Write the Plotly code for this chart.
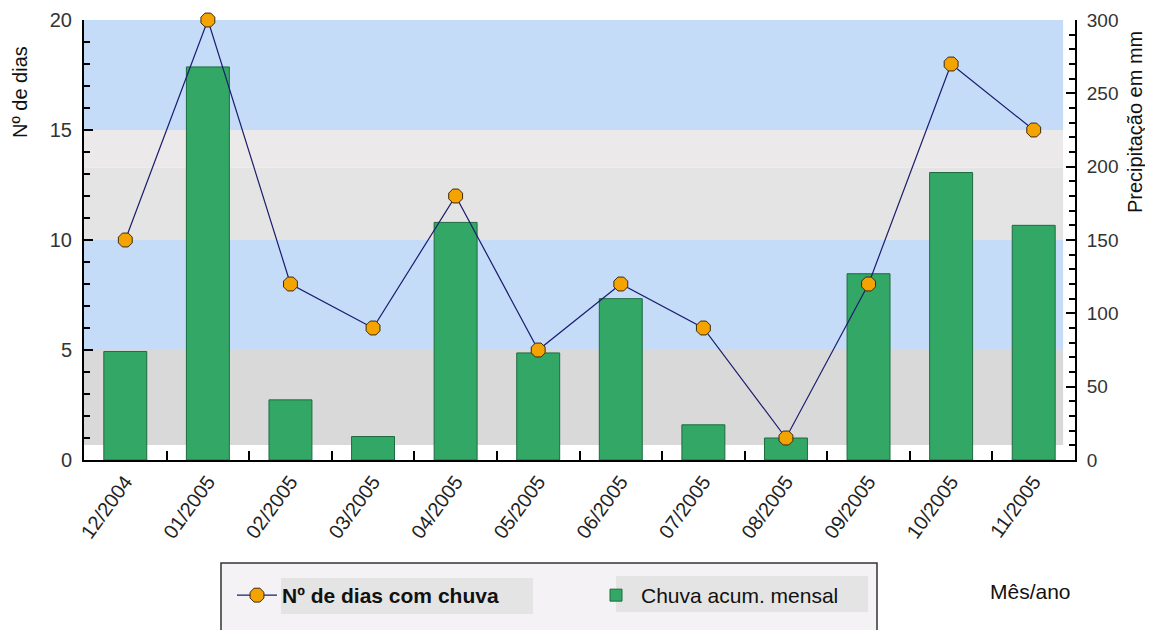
import plotly.graph_objects as go

months = ["12/2004", "01/2005", "02/2005", "03/2005", "04/2005", "05/2005",
          "06/2005", "07/2005", "08/2005", "09/2005", "10/2005", "11/2005"]
rain_days = [10, 20, 8, 6, 12, 5, 8, 6, 1, 8, 18, 15]
rain_mm = [74, 268, 41, 16, 162, 73, 110, 24, 15, 127, 196, 160]

FONT = "Liberation Sans, Arial, sans-serif"

fig = go.Figure()

fig.add_trace(go.Bar(
    x=months, y=rain_mm, name="Chuva acum. mensal", yaxis="y",
    marker=dict(color="#33a866", line=dict(color="#1e6b3f", width=1)),
    width=0.52,
))
fig.add_trace(go.Scatter(
    x=months, y=rain_days, name="<b>Nº de dias com chuva</b>", yaxis="y2",
    mode="lines+markers", cliponaxis=False,
    line=dict(color="#1c1c6e", width=1.2),
    marker=dict(symbol="octagon", size=15, color="#f5a300",
                line=dict(color="#3a2a10", width=1)),
))

# background bands (left axis units)
bands = [(0.68, 5, "#d9d9d9"), (5, 10, "#c4dcf8"), (10, 13.3, "#e4e4e4"),
         (13.3, 15, "#ece9ea"), (15, 20, "#c4dcf8")]
shapes = []
for y0, y1, c in bands:
    shapes.append(dict(type="rect", xref="paper", yref="y2", x0=0, x1=0.988,
                       y0=y0, y1=y1, fillcolor=c, line=dict(width=0), layer="below"))

# legend box and item backgrounds (paper coords, relative to plot area 84..1075 x 20..460)
W, H = 991, 440
def px(x):
    return (x - 84) / W
def py(y):
    return (460 - y) / H
shapes.append(dict(type="rect", xref="paper", yref="paper",
                   x0=px(221), x1=px(877), y0=py(640), y1=py(563),
                   fillcolor="#f4f2f4", line=dict(color="#333333", width=1.5), layer="below"))
shapes.append(dict(type="rect", xref="paper", yref="paper",
                   x0=px(281), x1=px(533), y0=py(614), y1=py(578),
                   fillcolor="#e4e4e4", line=dict(width=0), layer="below"))
shapes.append(dict(type="rect", xref="paper", yref="paper",
                   x0=px(616), x1=px(868), y0=py(612), y1=py(576),
                   fillcolor="#e4e4e4", line=dict(width=0), layer="below"))

# page body has an 8px margin: shrink figure so the plot area lands at 84..1075 x 20..460
fig.update_layout(
    width=1145, height=622,
    margin=dict(l=76, r=78, t=12, b=170, autoexpand=False),
    paper_bgcolor="white", plot_bgcolor="white",
    font=dict(family=FONT, size=20, color="#222222"),
    showlegend=True,
    legend=dict(orientation="h", x=px(232), y=py(575), xanchor="left", yanchor="top",
                bgcolor="rgba(0,0,0,0)", font=dict(size=21, color="#111111"),
                traceorder="reversed", entrywidth=304, entrywidthmode="pixels",
                itemwidth=40),
    xaxis=dict(type="category", tickangle=-54, tickson="boundaries",
               ticks="inside", ticklen=9, tickcolor="black", tickwidth=1.5,
               showline=True, linecolor="black", linewidth=2, automargin=False,
               showgrid=False, tickfont=dict(size=20, color="#222222"),
               range=[-0.5, 11.5]),
    yaxis=dict(side="right", range=[0, 300], dtick=50, automargin=False,
               ticks="inside", ticklen=9, tickcolor="black", tickwidth=1.5,
               minor=dict(dtick=10, ticks="inside", ticklen=6, tickcolor="black"),
               showline=True, linecolor="black", linewidth=2, showgrid=False,
               zeroline=False, ticklabelstandoff=6,
               tickfont=dict(size=19, color="#333333")),
    yaxis2=dict(side="left", overlaying="y", range=[0, 20], dtick=5, automargin=False,
                ticks="inside", ticklen=9, tickcolor="black", tickwidth=1.5,
                minor=dict(dtick=1, ticks="inside", ticklen=6, tickcolor="black"),
                showline=True, linecolor="black", linewidth=2, showgrid=False,
                zeroline=False, ticklabelstandoff=6,
                tickfont=dict(size=20, color="#333333")),
    shapes=shapes,
    annotations=[
        dict(text="Nº de dias", xref="paper", yref="paper", x=px(20), y=py(92),
             xanchor="center", yanchor="middle",
             textangle=-90, showarrow=False, font=dict(size=20, color="#111111")),
        dict(text="Precipitação em mm", xref="paper", yref="paper", x=px(1135), y=py(122),
             xanchor="center", yanchor="middle",
             textangle=-90, showarrow=False, font=dict(size=20, color="#111111")),
        dict(text="Mês/ano", xref="paper", yref="paper", x=px(1030), y=py(591),
             xanchor="center", yanchor="middle",
             showarrow=False, font=dict(size=21, color="#111111")),
    ],
)

fig.write_html("out.html")
